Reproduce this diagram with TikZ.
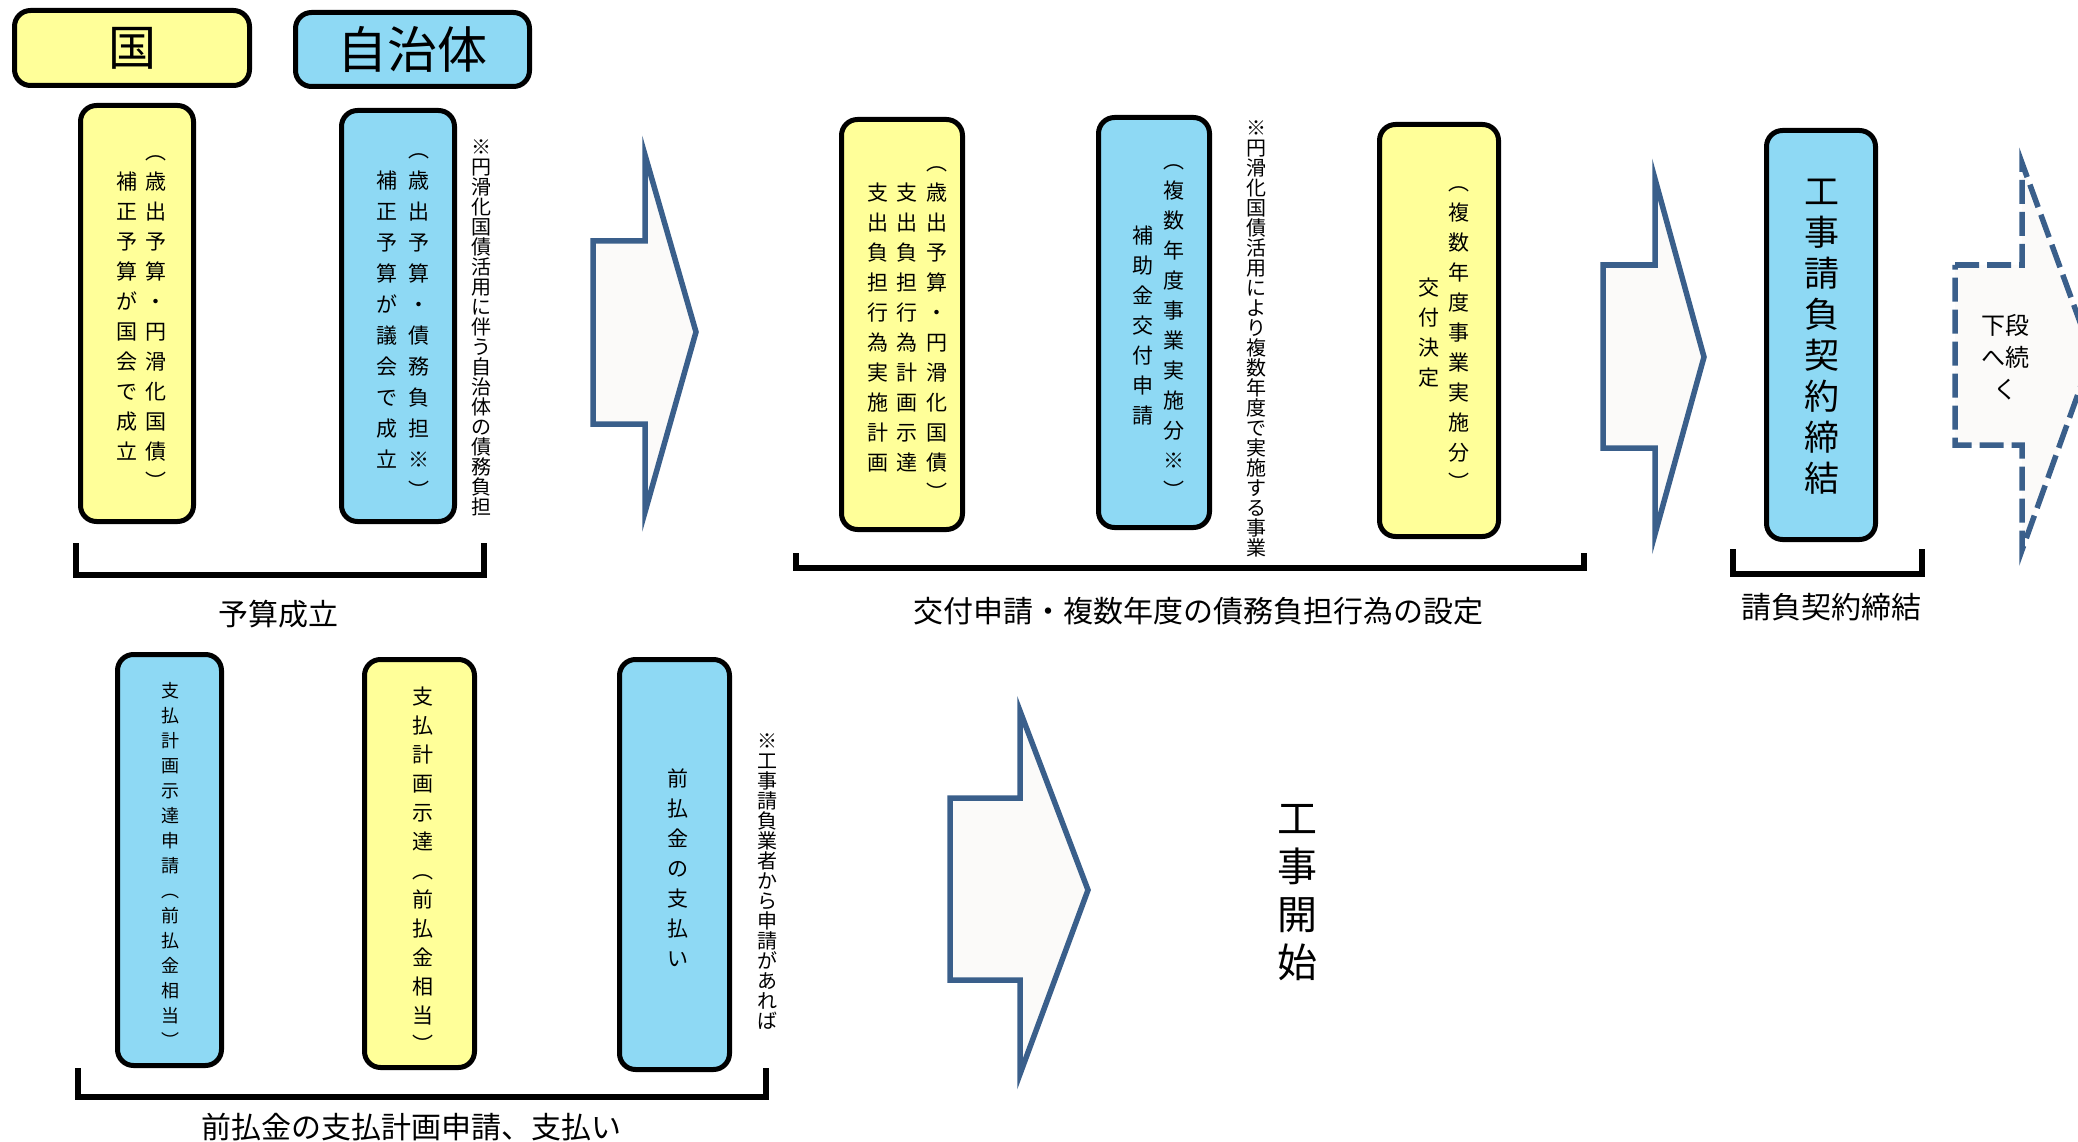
\documentclass[tikz,border=0pt]{standalone}
\usepackage{fontspec}
\setmainfont{Noto Sans CJK JP}
\definecolor{kyellow}{RGB}{255,255,153}
\definecolor{kblue}{RGB}{142,217,244}
\definecolor{arrowfill}{RGB}{251,250,249}
\definecolor{arrowline}{RGB}{58,95,139}
\let\vcolend\relax
\def\vcolA#1{\ifx#1\vcolend\else\hbox to 1.3em{\hss\vphantom{国}#1\hss}\expandafter\vcolA\fi}
\newcommand\vcol[3]{\vbox{\fontsize{#1}{#2}\selectfont\baselineskip=#2\lineskiplimit=-100pt\vcolA#3\vcolend}}
\tikzset{
  box/.style={draw=black, line width=5pt, rounded corners=16pt, inner sep=0pt},
  ybox/.style={box, fill=kyellow},
  bbox/.style={box, fill=kblue},
  bigarrow/.style={draw=arrowline, fill=arrowfill, line width=5.5pt, line join=miter},
  dasharrow/.style={bigarrow, dash pattern=on 24pt off 8pt},
  bracket/.style={draw=black, line width=6pt},
  lbl/.style={font=\fontsize{30pt}{36pt}\selectfont, inner sep=0pt},
  vt/.style={inner sep=0pt},
}
\begin{document}
\begin{tikzpicture}[x=1pt,y=-1pt]
\useasboundingbox (0,0) rectangle (2078,1142);
% headers
\node[ybox, minimum width=235pt, minimum height=75pt, font=\fontsize{48pt}{48pt}\selectfont] (kuni) at (132,48) {国};
\node[bbox, minimum width=234pt, minimum height=74pt, font=\fontsize{50pt}{50pt}\selectfont] (jichitai) at (412.5,49.5) {自治体};
% top row boxes
\node[ybox, minimum width=113pt, minimum height=416pt] (boxA) at (137,313.5) {};
\node[vt] (boxAa) at (156,317) {\vcol{21pt}{30pt}{︵歳出予算・円滑化国債︶}};
\node[vt] (boxAb) at (126.5,317) {\vcol{21pt}{30pt}{補正予算が国会で成立}};
\node[bbox, minimum width=113pt, minimum height=411pt] (boxB) at (398,316) {};
\node[vt] (boxBa) at (419,320) {\vcol{21pt}{31pt}{︵歳出予算・債務負担※︶}};
\node[vt] (boxBb) at (387,320) {\vcol{21pt}{31pt}{補正予算が議会で成立}};
\node[vt] (note1) at (481,327) {\vcol{20pt}{20pt}{※円滑化国債活用に伴う自治体の債務負担}};
\node[ybox, minimum width=121pt, minimum height=410pt] (boxC) at (902,324.5) {};
\node[vt] (boxCa) at (937,328) {\vcol{21pt}{30pt}{︵歳出予算・円滑化国債︶}};
\node[vt] (boxCb) at (906.5,328) {\vcol{21pt}{30pt}{支出負担行為計画示達}};
\node[vt] (boxCc) at (877.5,328) {\vcol{21pt}{30pt}{支出負担行為実施計画}};
\node[bbox, minimum width=111pt, minimum height=410pt] (boxD) at (1154,322.5) {};
\node[vt] (boxDa) at (1174,326) {\vcol{21pt}{30pt}{︵複数年度事業実施分※︶}};
\node[vt] (boxDb) at (1143,326) {\vcol{21pt}{30pt}{補助金交付申請}};
\node[vt] (note2) at (1256,338.5) {\vcol{20pt}{20pt}{※円滑化国債活用により複数年度で実施する事業}};
\node[ybox, minimum width=119pt, minimum height=412pt] (boxE) at (1439,330.5) {};
\node[vt] (boxEa) at (1459,333) {\vcol{21pt}{30pt}{︵複数年度事業実施分︶}};
\node[vt] (boxEb) at (1429,333) {\vcol{21pt}{30pt}{交付決定}};
\node[bbox, minimum width=109pt, minimum height=409pt] (boxF) at (1821,335) {};
\node[vt] (boxFa) at (1822,336) {\vcol{35pt}{41pt}{工事請負契約締結}};
% arrows top row
\draw[bigarrow] (593,241) -- (645,241) -- (645,155) -- (696,332) -- (645,512) -- (645,424) -- (593,424) -- cycle;
\draw[bigarrow] (1603,265) -- (1655,265) -- (1655,179) -- (1704,357) -- (1655,534) -- (1655,448) -- (1603,448) -- cycle;
\begin{scope}
\clip (0,0) rectangle (2078,1142);
\draw[dasharrow] (1955,265) -- (2022,265) -- (2022,163) -- (2092,355) -- (2022,550) -- (2022,445) -- (1955,445) -- cycle;
\end{scope}
\node[inner sep=0pt, align=center, font=\fontsize{24pt}{32pt}\selectfont] (cont) at (2005,357) {下段\\へ続\\く};
% brackets and labels top row
\draw[bracket] (76,543) -- (76,575) -- (484,575) -- (484,543);
\node[lbl] (lbl1) at (278,614) {予算成立};
\draw[bracket] (796,553) -- (796,568) -- (1584,568) -- (1584,553);
\node[lbl] (lbl2) at (1198,611) {交付申請・複数年度の債務負担行為の設定};
\draw[bracket] (1733,549) -- (1733,574) -- (1922,574) -- (1922,549);
\node[lbl] (lbl3) at (1831,607) {請負契約締結};
% bottom row
\node[bbox, minimum width=104pt, minimum height=411pt] (boxG) at (169.5,860) {};
\node[vt] (boxGa) at (170,866) {\vcol{18pt}{25pt}{支払計画示達申請︵前払金相当︶}};
\node[ybox, minimum width=110pt, minimum height=408pt] (boxH) at (419.5,863.5) {};
\node[vt] (boxHa) at (423,871) {\vcol{21pt}{29pt}{支払計画示達︵前払金相当︶}};
\node[bbox, minimum width=110pt, minimum height=410pt] (boxI) at (674.5,864.5) {};
\node[vt] (boxIa) at (678,868) {\vcol{21pt}{30pt}{前払金の支払い}};
\node[vt] (note3) at (767,881.5) {\vcol{20pt}{20pt}{※工事請負業者から申請があれば}};
\draw[bracket] (78,1068) -- (78,1097) -- (766,1097) -- (766,1068);
\node[lbl] (lbl4) at (411,1127) {前払金の支払計画申請、支払い};
\draw[bigarrow] (950,798) -- (1020,798) -- (1020,711) -- (1088,890) -- (1020,1074) -- (1020,980) -- (950,980) -- cycle;
\node[vt] (start) at (1297,891) {\vcol{40pt}{48pt}{工事開始}};
\end{tikzpicture}
\end{document}
